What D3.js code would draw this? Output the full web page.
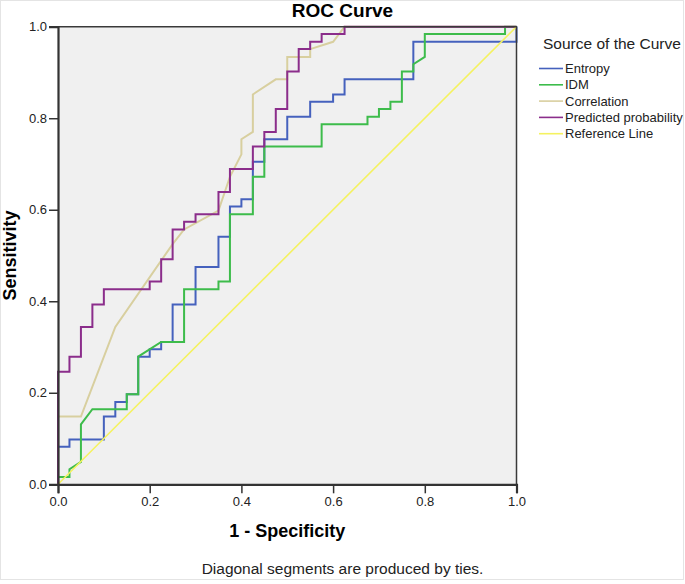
<!DOCTYPE html>
<html>
<head>
<meta charset="utf-8">
<script src="https://cdn.jsdelivr.net/npm/d3@7"></script>
<style>
  body { margin: 0; background: #fff; }
  svg { font-family: "Liberation Sans", Arial, sans-serif; }
</style>
</head>
<body>
<svg id="chart" width="685" height="584"></svg>
<script>
// ROC curve data
//-------------------------------------
var entropyFpr = [0, 0, .025, .025, .1, .1, .125, .125, .15, .15, .175, .175, .2, .2, .225, .225, .25, .25, .3, .3, .35, .35, .375, .375, .4, .4, .425, .425, .45, .45, .5, .5, .55, .55, .6, .6, .625, .625, .775, .775, 1, 1];
var entropyTpr = [0, .082, .082, .098, .098, .148, .148, .180, .180, .197, .197, .279, .279, .295, .295, .311, .311, .393, .393, .475, .475, .541, .541, .607, .607, .623, .623, .705, .705, .754, .754, .803, .803, .836, .836, .852, .852, .885, .885, .967, .967, 1];

var idmFpr = [0, 0, .025, .025, .05, .05, .075, .15, .15, .175, .175, .225, .275, .275, .35, .35, .375, .375, .425, .425, .45, .45, .575, .575, .675, .675, .7, .7, .725, .725, .75, .75, .775, .775, .8, .8, .975, .975, 1];
var idmTpr = [0, .016, .016, .033, .049, .131, .164, .164, .197, .197, .279, .311, .311, .426, .426, .443, .443, .590, .590, .672, .672, .738, .738, .787, .787, .803, .803, .820, .820, .836, .836, .902, .902, .918, .934, .984, .984, 1, 1];

var corrFpr = [0, 0, .05, .125, .25, .275, .35, .375, .4, .4, .425, .425, .475, .5, .5, .55, .55, .6, .625, 1];
var corrTpr = [0, .148, .148, .344, .525, .557, .598, .672, .721, .754, .770, .852, .885, .885, .934, .934, .951, .967, 1, 1];

var predFpr = [0, 0, .025, .025, .05, .05, .075, .075, .1, .1, .2, .2, .225, .225, .25, .25, .275, .275, .3, .3, .35, .35, .375, .375, .425, .425, .45, .45, .475, .475, .5, .5, .525, .525, .55, .55, .575, .575, .625, .625, 1];
var predTpr = [0, .246, .246, .279, .279, .344, .344, .393, .393, .426, .426, .443, .443, .492, .492, .557, .557, .574, .574, .590, .590, .639, .639, .689, .689, .738, .738, .770, .770, .820, .820, .902, .902, .951, .951, .967, .967, .984, .984, 1, 1];

var refFpr = [0, 1];
var refTpr = [0, 1];

var seriesNames = ["Entropy", "IDM", "Correlation", "Predicted probability", "Reference Line"];
var seriesColors = ["#4561bd", "#3dbc4b", "#d8cf9f", "#8b2d8b", "#f5f260"];
var ticks = [0, 0.2, 0.4, 0.6, 0.8, 1.0];

var series = [
    { name: seriesNames[0], fpr: entropyFpr, tpr: entropyTpr, color: seriesColors[0], w: 2 },
    { name: seriesNames[1], fpr: idmFpr, tpr: idmTpr, color: seriesColors[1], w: 2 },
    { name: seriesNames[2], fpr: corrFpr, tpr: corrTpr, color: seriesColors[2], w: 2 },
    { name: seriesNames[3], fpr: predFpr, tpr: predTpr, color: seriesColors[3], w: 2 },
    { name: seriesNames[4], fpr: refFpr, tpr: refTpr, color: seriesColors[4], w: 1.6 }
];

//-------------------------------------
var svg = d3.select("#chart");
var plotLeft = 58, plotRight = 516.5, plotTop = 26.7, plotBottom = 484.3;

var x = d3.scaleLinear().domain([0, 1]).range([plotLeft, plotRight]);
var y = d3.scaleLinear().domain([0, 1]).range([plotBottom, plotTop]);

// faint outer frame
svg.append("rect").attr("x", 0.5).attr("y", 0.5).attr("width", 683).attr("height", 579)
    .attr("fill", "none").attr("stroke", "#e4e4e4");

// plot background
svg.append("rect").attr("x", plotLeft).attr("y", plotTop)
    .attr("width", plotRight - plotLeft).attr("height", plotBottom - plotTop)
    .attr("fill", "#f0f0f0");

// the curves
var line = d3.line()
    .x(function (d) { return x(d[0]); })
    .y(function (d) { return y(d[1]); });

series.forEach(function (s) {
    var pts = s.fpr.map(function (v, i) { return [v, s.tpr[i]]; });
    svg.append("path").datum(pts)
        .attr("d", line)
        .attr("fill", "none")
        .attr("stroke", s.color)
        .attr("stroke-width", s.w)
        .attr("stroke-linejoin", "miter");
});

// frame: top and right
svg.append("path")
    .attr("d", "M" + plotLeft + "," + plotTop + "H" + plotRight + "V" + plotBottom)
    .attr("fill", "none").attr("stroke", "#3a3a3a").attr("stroke-width", 1.5);

// axes
var xAxis = svg.append("g").attr("transform", "translate(0," + plotBottom + ")")
    .call(d3.axisBottom(x).tickValues(ticks).tickFormat(d3.format(".1f")).tickSize(9).tickPadding(3));
var yAxis = svg.append("g").attr("transform", "translate(" + plotLeft + ",0)")
    .call(d3.axisLeft(y).tickValues(ticks).tickFormat(d3.format(".1f")).tickSize(9).tickPadding(2));

[xAxis, yAxis].forEach(function (a) {
    a.select(".domain").attr("stroke", "#333").attr("stroke-width", 2.2);
    a.selectAll(".tick line").attr("stroke", "#333").attr("stroke-width", 1.5);
    a.selectAll(".tick text").attr("fill", "#222").style("font-size", "13px")
        .style("font-family", "'Liberation Sans', Arial, sans-serif");
});

// titles
svg.append("text").attr("x", 342.5).attr("y", 17)
    .attr("text-anchor", "middle").style("font-size", "19px").style("font-weight", "bold")
    .text("ROC Curve");

svg.append("text").attr("x", (plotLeft + plotRight) / 2).attr("y", 536.5)
    .attr("text-anchor", "middle").style("font-size", "18px").style("font-weight", "bold")
    .text("1 - Specificity");

svg.append("text").attr("transform", "translate(16," + ((plotTop + plotBottom) / 2) + ") rotate(-90)")
    .attr("text-anchor", "middle").style("font-size", "18px").style("font-weight", "bold")
    .text("Sensitivity");

svg.append("text").attr("x", 342.5).attr("y", 574)
    .attr("text-anchor", "middle").style("font-size", "15.5px").attr("fill", "#222")
    .text("Diagonal segments are produced by ties.");

// legend
svg.append("text").attr("x", 543).attr("y", 49).style("font-size", "15.5px").attr("fill", "#222")
    .text("Source of the Curve");

var legend = svg.selectAll(".legend-item").data(series).enter()
    .append("g").attr("class", "legend-item")
    .attr("transform", function (d, i) { return "translate(539," + (68.5 + i * 16.3) + ")"; });

legend.append("line").attr("x1", 0).attr("x2", 24).attr("y1", 0).attr("y2", 0)
    .attr("stroke", function (d) { return d.color; }).attr("stroke-width", 1.6);

legend.append("text").attr("x", 26).attr("y", 4.5).style("font-size", "13px").attr("fill", "#222")
    .text(function (d) { return d.name; });
</script>
</body>
</html>
